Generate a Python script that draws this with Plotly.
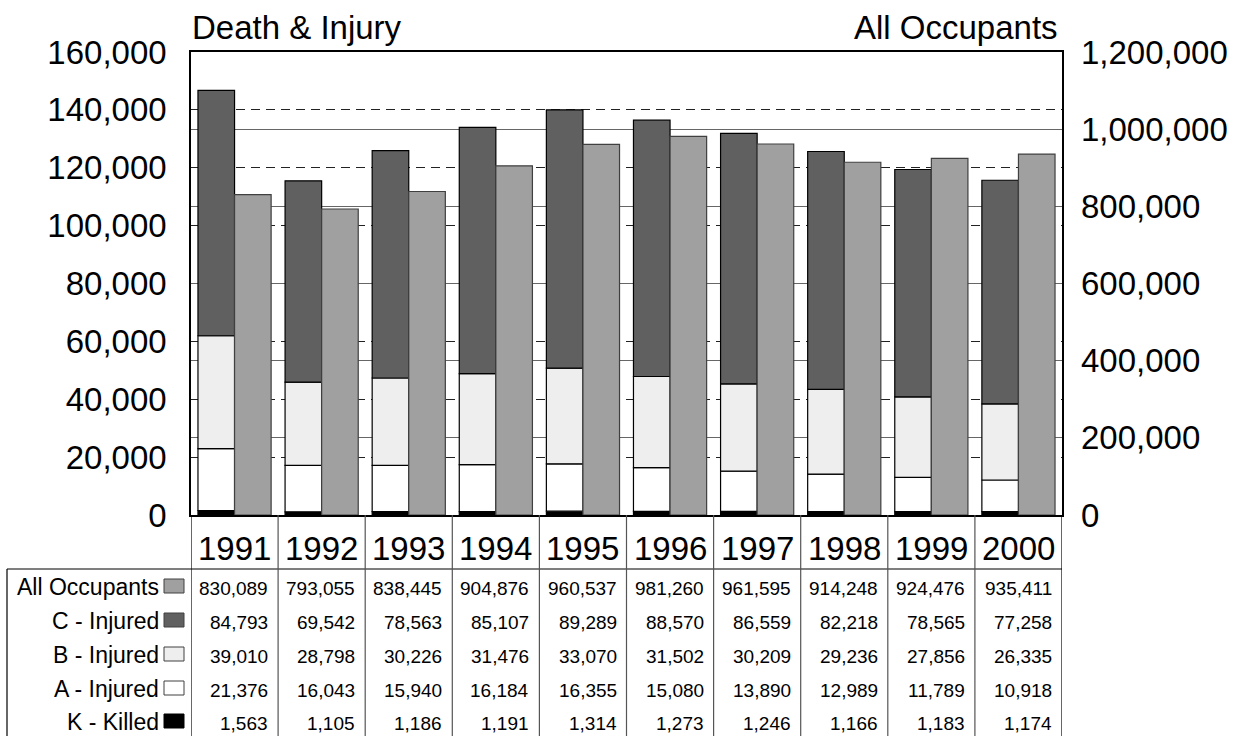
import plotly.graph_objects as go

# --- data -------------------------------------------------------------
years = ["1991", "1992", "1993", "1994", "1995", "1996", "1997", "1998", "1999", "2000"]
all_occupants = [830089, 793055, 838445, 904876, 960537, 981260, 961595, 914248, 924476, 935411]
c_injured = [84793, 69542, 78563, 85107, 89289, 88570, 86559, 82218, 78565, 77258]
b_injured = [39010, 28798, 30226, 31476, 33070, 31502, 30209, 29236, 27856, 26335]
a_injured = [21376, 16043, 15940, 16184, 16355, 15080, 13890, 12989, 11789, 10918]
k_killed = [1563, 1105, 1186, 1191, 1314, 1273, 1246, 1166, 1183, 1174]

left_ticks = [0, 20000, 40000, 60000, 80000, 100000, 120000, 140000, 160000]
right_ticks = [0, 200000, 400000, 600000, 800000, 1000000, 1200000]

FONT = "Liberation Sans, Arial, sans-serif"
W, H = 1244, 736
L, R, T, B = 191, 182, 52, 221
PLOT_W = W - L - R
PLOT_H = H - T - B

def py(pixel_y):
    """pixel row -> paper y"""
    return (H - B - pixel_y) / PLOT_H

def px(pixel_x):
    """pixel column -> paper x"""
    return (pixel_x - L) / PLOT_W

xs = list(range(len(years)))
BW = 0.42

# stacked severity series (bottom to top), drawn on the left axis
stack = [
    ("K - Killed", k_killed, "#000000", "#000000"),
    ("A - Injured", a_injured, "#ffffff", "#000000"),
    ("B - Injured", b_injured, "#eeeeee", "#000000"),
    ("C - Injured", c_injured, "#606060", "#000000"),
]

fig = go.Figure()
base = [0] * len(years)
for name, vals, fill, line in stack:
    fig.add_trace(go.Bar(
        x=xs, y=vals, base=list(base), name=name,
        width=BW, offset=-BW,
        marker=dict(color=fill, line=dict(color=line, width=1.2)),
        yaxis="y", showlegend=False,
    ))
    base = [b + v for b, v in zip(base, vals)]

# total occupants, drawn on the right axis
fig.add_trace(go.Bar(
    x=xs, y=all_occupants, name="All Occupants",
    width=BW, offset=0,
    marker=dict(color="#a0a0a0", line=dict(color="#404040", width=1.2)),
    yaxis="y2", showlegend=False,
))

# --- table below the plot --------------------------------------------
shapes = []
annotations = []

HEADER_BOTTOM = 569
ROW_Y = [587, 621, 655, 689, 722]

# header row separator and table outline
shapes.append(dict(type="line", xref="paper", yref="paper",
                   x0=px(7), x1=1, y0=py(HEADER_BOTTOM), y1=py(HEADER_BOTTOM),
                   line=dict(color="#000000", width=1.2)))
shapes.append(dict(type="line", xref="paper", yref="paper",
                   x0=px(7), x1=px(7), y0=py(HEADER_BOTTOM), y1=py(H + 20),
                   line=dict(color="#000000", width=1.2)))
for k in range(len(years) + 1):
    shapes.append(dict(type="line", xref="x", yref="paper",
                       x0=k - 0.5, x1=k - 0.5, y0=0, y1=py(H + 20),
                       line=dict(color="#000000" if k in (0, len(years)) else "#555555",
                                 width=1.2)))

for i, yr in enumerate(years):
    annotations.append(dict(x=i, y=py(548), xref="x", yref="paper", text=yr,
                            showarrow=False, xanchor="center", yanchor="middle",
                            font=dict(family=FONT, size=33, color="#000")))

rows = [
    ("All Occupants", all_occupants, "#a0a0a0", "#404040"),
    ("C - Injured", c_injured, "#606060", "#404040"),
    ("B - Injured", b_injured, "#eeeeee", "#404040"),
    ("A - Injured", a_injured, "#ffffff", "#404040"),
    ("K - Killed", k_killed, "#000000", "#000000"),
]
for r, (label, vals, fill, line) in enumerate(rows):
    yc = ROW_Y[r]
    annotations.append(dict(x=px(161), y=py(yc), xref="paper", yref="paper", text=label,
                            showarrow=False, xanchor="right", yanchor="middle",
                            font=dict(family=FONT, size=23, color="#000")))
    shapes.append(dict(type="rect", xref="paper", yref="paper",
                       x0=px(164), x1=px(184), y0=py(yc + 6), y1=py(yc - 8),
                       fillcolor=fill, line=dict(color=line, width=1)))
    for i, v in enumerate(vals):
        annotations.append(dict(x=i + 0.5, y=py(yc + 1), xref="x", yref="paper",
                                text=f"{v:,}", showarrow=False, xanchor="right",
                                yanchor="middle", xshift=-8,
                                font=dict(family=FONT, size=19, color="#000")))

# --- titles -----------------------------------------------------------
annotations.append(dict(x=px(190), y=py(27), xref="paper", yref="paper",
                        text="Death & Injury", showarrow=False, xanchor="left",
                        yanchor="middle", font=dict(family=FONT, size=33, color="#000")))
annotations.append(dict(x=px(1060), y=py(27), xref="paper", yref="paper",
                        text="All Occupants", showarrow=False, xanchor="right",
                        yanchor="middle", font=dict(family=FONT, size=33, color="#000")))

fig.update_layout(
    width=W, height=H,
    margin=dict(l=L, r=R, t=T, b=B, pad=0),
    template="none",
    paper_bgcolor="#ffffff", plot_bgcolor="#ffffff",
    barmode="overlay",
    font=dict(family=FONT, color="#000"),
    xaxis=dict(range=[-0.5, len(years) - 0.5], showticklabels=False, ticks="",
               showgrid=False, zeroline=False, showline=True, linecolor="#000",
               linewidth=2, mirror=True, automargin=False, fixedrange=True),
    yaxis=dict(range=[0, 160000], tickvals=left_ticks, tickformat=",",
               ticks="", ticklabelstandoff=16, showline=True, linecolor="#000",
               linewidth=1.5, mirror=True, zeroline=False,
               showgrid=True, gridcolor="#222222", gridwidth=1, griddash="9px,6px",
               tickfont=dict(family=FONT, size=33, color="#000"), automargin=False),
    yaxis2=dict(range=[0, 1200000], tickvals=right_ticks, tickformat=",",
                overlaying="y", side="right", ticks="", ticklabelstandoff=18,
                showline=False, zeroline=False,
                showgrid=True, gridcolor="#666666", gridwidth=1,
                tickfont=dict(family=FONT, size=33, color="#000"), automargin=False),
    shapes=shapes,
    annotations=annotations,
    showlegend=False,
)

fig.write_html("out.html")
